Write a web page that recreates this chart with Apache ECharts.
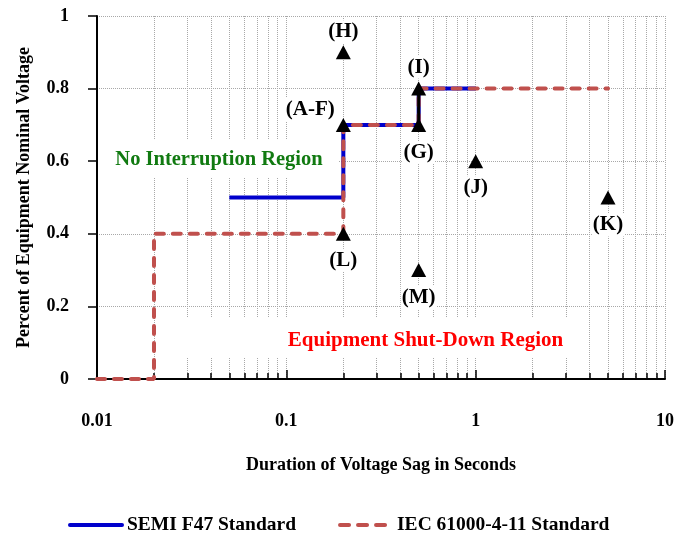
<!DOCTYPE html>
<html><head><meta charset="utf-8">
<script src="https://cdn.jsdelivr.net/npm/echarts@6/dist/echarts.min.js"></script>
<style>html,body{margin:0;padding:0;background:#fff}#c{width:677px;height:535px}</style>
</head><body><div id="c"></div>
<script>
// ---- data ----
const semiX = [0.05, 0.2, 0.2, 0.5, 0.5, 1];
const semiY = [0.5, 0.5, 0.7, 0.7, 0.8, 0.8];
const iecX = [0.01, 0.02, 0.02, 0.2, 0.2, 0.5, 0.5, 5];
const iecY = [0, 0, 0.4, 0.4, 0.7, 0.7, 0.8, 0.8];
const linkX = [0.5, 0.5];
const linkY = [0.7, 0.8];
const pointNames = ['(H)', '(A-F)', '(I)', '(G)', '(J)', '(K)', '(L)', '(M)'];
const pointX = [0.2, 0.2, 0.5, 0.5, 1, 5, 0.2, 0.5];
const pointY = [0.9, 0.7, 0.8, 0.7, 0.6, 0.5, 0.4, 0.3];
const seriesNames = ['SEMI F47 Standard', 'IEC 61000-4-11 Standard'];
const regionTexts = ['No Interruption Region', 'Equipment Shut-Down Region'];

// ---- styles / positions ----
const FONT = 'Liberation Serif';
const labelPlacement = {
  '(H)':   {position: 'top', distance: 2},
  '(A-F)': {position: 'top', distance: -3, offset: [-33, 0]},
  '(I)':   {position: 'top', distance: 3},
  '(G)':   {position: 'bottom', distance: 9},
  '(J)':   {position: 'bottom', distance: 8},
  '(K)':   {position: 'bottom', distance: 9},
  '(L)':   {position: 'bottom', distance: 8},
  '(M)':   {position: 'bottom', distance: 9}
};
const regionAnchors = [[0.0441, 0.603], [0.5437, 0.107]];
const regionColors = ['#117a11', '#ff0000'];
const regionFontSizes = [20.5, 21];
const regionBoxes = [[-120, -20, 239, 38], [-265, -23, 407, 40]];

const zip = (xs, ys) => xs.map((x, i) => [x, ys[i]]);
const gridLine = {show: true, lineStyle: {color: '#a8a8a8', type: 'dotted', width: 1}};

const chart = echarts.init(document.getElementById('c'));
chart.setOption({
  animation: false,
  backgroundColor: '#fff',
  textStyle: {fontFamily: FONT},
  grid: {left: 97, right: 12, top: 16, bottom: 156, containLabel: false},
  legend: {
    left: 68, top: 515, padding: 0, itemWidth: 52, itemHeight: 14, itemGap: 42,
    data: [
      {name: seriesNames[0], lineStyle: {width: 4, cap: 'round'}},
      {name: seriesNames[1], lineStyle: {width: 4, cap: 'round', type: [9, 9]}}
    ],
    itemStyle: {opacity: 0},
    textStyle: {fontFamily: FONT, fontWeight: 'bold', fontSize: 19.5, color: '#000'}
  },
  xAxis: {
    type: 'log', logBase: 10, min: 0.01, max: 10,
    name: 'Duration of Voltage Sag in Seconds', nameLocation: 'middle', nameGap: 77,
    nameTextStyle: {fontFamily: FONT, fontWeight: 'bold', fontSize: 18, color: '#000'},
    axisLine: {lineStyle: {color: '#000', width: 2}},
    axisTick: {inside: true, length: 9, lineStyle: {color: '#000', width: 1.5}},
    minorTick: {show: true, splitNumber: 9, length: 6, lineStyle: {color: '#000', width: 1.5}},
    splitLine: gridLine,
    minorSplitLine: gridLine,
    axisLabel: {margin: 33, fontFamily: FONT, fontWeight: 'bold', fontSize: 18, color: '#000'}
  },
  yAxis: {
    type: 'value', min: 0, max: 1, interval: 0.2,
    name: 'Percent of Equipment Nominal Voltage', nameLocation: 'middle', nameGap: 64,
    nameTextStyle: {fontFamily: FONT, fontWeight: 'bold', fontSize: 18, color: '#000'},
    axisLine: {show: true, lineStyle: {color: '#000', width: 2}},
    axisTick: {show: true, length: 9, lineStyle: {color: '#000', width: 1.5}},
    splitLine: gridLine,
    axisLabel: {margin: 28, fontFamily: FONT, fontWeight: 'bold', fontSize: 18, color: '#000'}
  },
  series: [
    {
      name: seriesNames[0], type: 'line', data: zip(semiX, semiY), symbol: 'none', z: 2,
      lineStyle: {color: '#0000cc', width: 4}, itemStyle: {color: '#0000cc'}
    },
    {
      name: seriesNames[1], type: 'line', data: zip(iecX, iecY), symbol: 'none', z: 3,
      lineStyle: {color: '#c0504d', width: 4, type: [8, 9], cap: 'round'}, itemStyle: {color: '#c0504d'}
    },
    {
      name: 'link', type: 'line', data: zip(linkX, linkY), symbol: 'none', z: 4,
      lineStyle: {color: '#000', width: 3}
    },
    {
      name: 'points', type: 'scatter', z: 5, symbol: 'triangle', symbolSize: [15, 14],
      itemStyle: {color: '#000', opacity: 1},
      label: {show: true, formatter: '{b}', fontFamily: FONT, fontWeight: 'bold', fontSize: 21,
              color: '#000', backgroundColor: '#fff', padding: [1, 1]},
      data: pointX.map((x, i) => ({
        name: pointNames[i], value: [x, pointY[i]],
        label: labelPlacement[pointNames[i]]
      }))
    }
  ]
});

const graphics = [];
regionTexts.forEach((t, i) => {
  const p = chart.convertToPixel({gridIndex: 0}, regionAnchors[i]);
  const b = regionBoxes[i];
  graphics.push({type: 'rect', z: 1, silent: true,
    shape: {x: p[0] + b[0], y: p[1] + b[1], width: b[2], height: b[3]},
    style: {fill: '#fff'}});
  graphics.push({type: 'text', z: 1, silent: true, x: p[0], y: p[1],
    style: {text: t, fill: regionColors[i], font: 'bold ' + regionFontSizes[i] + 'px "' + FONT + '"',
            align: 'center', verticalAlign: 'middle'}});
});
chart.setOption({graphic: graphics});
</script></body></html>
